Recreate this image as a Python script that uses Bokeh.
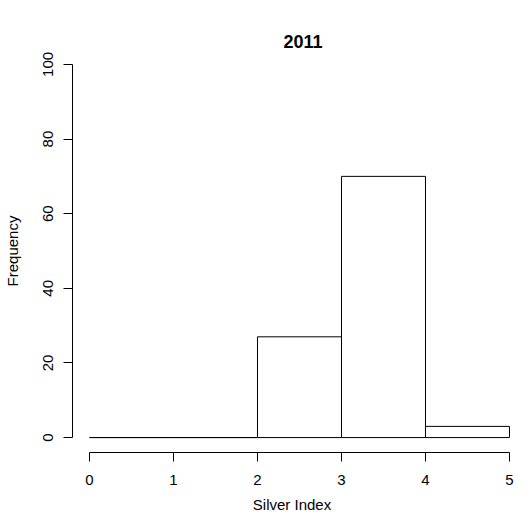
from bokeh.plotting import figure
from bokeh.models import Range1d, LinearAxis, FixedTicker, Title, ColumnDataSource
from bokeh.embed import file_html
from bokeh.resources import INLINE

# Data
bin_left = [0, 1, 2, 3, 4]
bin_right = [1, 2, 3, 4, 5]
counts = [0, 0, 27, 70, 3]
x_ticks = [0, 1, 2, 3, 4, 5]
y_ticks = [0, 20, 40, 60, 80, 100]
title_text = "2011"
x_label = "Silver Index"
y_label = "Frequency"

FONT = "Liberation Sans"

p = figure(width=514, height=515,
           x_range=Range1d(-0.2024, 5.024), y_range=Range1d(-4, 104),
           output_backend="svg", toolbar_location=None,
           x_axis_location=None, y_axis_location=None,
           min_border_left=72, min_border_right=3,
           min_border_top=49, min_border_bottom=63)
p.outline_line_color = None
p.xgrid.visible = False
p.ygrid.visible = False
p.background_fill_color = "white"
p.border_fill_color = "white"

src = ColumnDataSource(dict(left=bin_left, right=bin_right, top=counts, bottom=[0]*len(counts)))
p.quad(left="left", right="right", top="top", bottom="bottom", source=src,
       fill_color="white", line_color="black", line_width=1)

def style_axis(ax):
    ax.axis_line_color = "black"
    ax.major_tick_line_color = "black"
    ax.minor_tick_line_color = None
    ax.major_tick_in = 0
    ax.major_tick_out = 9
    ax.major_label_text_font = FONT
    ax.major_label_text_font_size = "15px"
    ax.major_label_text_color = "black"
    ax.axis_label_text_font = FONT
    ax.axis_label_text_font_size = "15px"
    ax.axis_label_text_font_style = "normal"
    ax.axis_label_text_color = "black"

xa = LinearAxis(ticker=FixedTicker(ticks=x_ticks), bounds=(0, 5), axis_label=x_label)
style_axis(xa)
xa.major_label_standoff = 13
xa.axis_label_standoff = 8
p.add_layout(xa, "below")

ya = LinearAxis(ticker=FixedTicker(ticks=y_ticks), bounds=(0, 100), axis_label=y_label)
style_axis(ya)
ya.major_label_orientation = "vertical"
ya.major_label_standoff = 10
ya.axis_label_standoff = 20
p.add_layout(ya, "left")

t = Title(text=title_text, align="left", offset=211, standoff=0, vertical_align="top",
          text_font=FONT, text_font_size="18px", text_font_style="bold",
          text_color="black")
p.add_layout(t, "above")

# spacer between frame and title (keeps the title at the top of the page)
spacer = Title(text=" ", text_font_size="1px", standoff=22, text_color=None)
p.add_layout(spacer, "above")

open("out.html", "w").write(file_html(p, INLINE))
